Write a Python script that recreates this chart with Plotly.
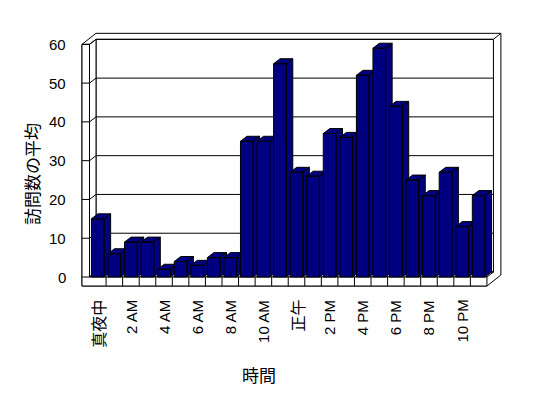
import plotly.graph_objects as go

# ---- data ----
hours = ["真夜中", "1 AM", "2 AM", "3 AM", "4 AM", "5 AM", "6 AM", "7 AM", "8 AM", "9 AM",
         "10 AM", "11 AM", "正午", "1 PM", "2 PM", "3 PM", "4 PM", "5 PM", "6 PM", "7 PM",
         "8 PM", "9 PM", "10 PM", "11 PM"]
visits = [15, 6, 9, 9, 2, 4, 3, 5, 5, 35, 35, 55, 27, 26, 37, 36, 52, 59, 44, 25, 21, 27, 13, 21]
x_tick_labels = ["真夜中", "2 AM", "4 AM", "6 AM", "8 AM", "10 AM", "正午",
                 "2 PM", "4 PM", "6 PM", "8 PM", "10 PM"]
y_ticks = [0, 10, 20, 30, 40, 50, 60]
y_title = "訪問数の平均"
x_title = "時間"

# ---- geometry / style (in axis units) ----
N = len(hours)
X0, X1 = -0.5, N - 0.5
YMAX = max(y_ticks)
DX, DY = 0.3925, 1.289        # depth offset of the 3D box
BWX, BWY = 0.45, 1.55         # back wall thickness
WALL = 0.453                  # left wall thickness
FLOOR = 2.32                  # floor thickness
BAR_W = 0.766
BAR_COLOR = "#000080"
LINE = dict(color="black", width=1)
FONT = "Liberation Sans, Noto Sans CJK JP, sans-serif"
CJK_FONT = "Noto Sans CJK JP"

fig = go.Figure()


def poly_trace(polys, fill):
    xs, ys = [], []
    for px, py in polys:
        if xs:
            xs.append(None)
            ys.append(None)
        xs += list(px) + [px[0]]
        ys += list(py) + [py[0]]
    fig.add_trace(go.Scatter(x=xs, y=ys, mode="lines", fill="toself", fillcolor=fill,
                             line=LINE, hoverinfo="skip", showlegend=False))


def line_trace(segs):
    xs, ys = [], []
    for px, py in segs:
        xs += list(px) + [None]
        ys += list(py) + [None]
    fig.add_trace(go.Scatter(x=xs, y=ys, mode="lines", line=LINE,
                             hoverinfo="skip", showlegend=False))


# outer silhouette of walls + floor
poly_trace([([X0 - WALL, X1, X1 + DX + BWX, X1 + DX + BWX, X0 - WALL + DX + BWX, X0 - WALL],
             [-FLOOR, -FLOOR, -FLOOR + DY + BWY, YMAX + DY + BWY, YMAX + DY + BWY, YMAX])], "white")
# back wall face
poly_trace([([X0 + DX, X1 + DX, X1 + DX, X0 + DX], [DY, DY, YMAX + DY, YMAX + DY])], "white")
# left wall inner face
poly_trace([([X0, X0, X0 + DX, X0 + DX], [0, YMAX, YMAX + DY, DY])], "white")
# floor top
poly_trace([([X0, X1, X1 + DX, X0 + DX], [0, 0, DY, DY])], "white")
# front faces of left wall and floor (L shape)
poly_trace([([X0 - WALL, X1, X1, X0, X0, X0 - WALL],
             [-FLOOR, -FLOOR, 0, 0, YMAX, YMAX])], "white")
# category dividers on floor front, corner line on back wall top
segs = [([X0 + k, X0 + k], [-FLOOR, 0]) for k in range(1, N)]
segs.append(([X1 + DX, X1 + DX + BWX], [YMAX + DY, YMAX + DY + BWY]))
# gridlines wrapping left wall and back wall
for v in y_ticks:
    segs.append(([X0 - WALL, X0, X0 + DX, X1 + DX], [v, v, v + DY, v + DY]))
line_trace(segs)

# bars (side, top, front), drawn left to right
for i, v in enumerate(visits):
    l, r = i - BAR_W / 2, i + BAR_W / 2
    poly_trace([
        ([r, r, r + DX, r + DX], [0, v, v + DY, DY]),
        ([l, r, r + DX, l + DX], [v, v, v + DY, v + DY]),
        ([l, r, r, l], [0, 0, v, v]),
    ], BAR_COLOR)

annotations = []
for v in y_ticks:
    annotations.append(dict(x=X0 - WALL, y=v, xref="x", yref="y", text=str(v),
                            showarrow=False, xanchor="right", yanchor="middle", xshift=-14,
                            font=dict(family=FONT, size=15, color="#000000")))
for j, lab in enumerate(x_tick_labels):
    idx = hours.index(lab)
    cjk = not any(c.isascii() and c.isalpha() for c in lab)
    annotations.append(dict(x=idx, y=-FLOOR, xref="x", yref="y", text=lab, textangle=-90,
                            showarrow=False, xanchor="center", yanchor="top", yshift=-12,
                            font=dict(family=CJK_FONT if cjk else FONT, size=16 if cjk else 15,
                                      color="#000000")))
annotations.append(dict(x=0.0584, y=0.563, xref="paper", yref="paper", text=y_title,
                        textangle=-90, showarrow=False, xanchor="center", yanchor="middle",
                        font=dict(family=CJK_FONT, size=17, color="#000000")))
annotations.append(dict(x=0.4726, y=0.0578, xref="paper", yref="paper", text=x_title,
                        showarrow=False, xanchor="center", yanchor="middle",
                        font=dict(family=CJK_FONT, size=17, color="#000000")))

fig.update_layout(
    width=548, height=398, autosize=False,
    margin=dict(l=0, r=0, t=0, b=0, pad=0),
    paper_bgcolor="white", plot_bgcolor="white",
    showlegend=False,
    xaxis=dict(range=[-5.905, 27.187], visible=False, fixedrange=True),
    yaxis=dict(range=[-31.2, 71.43], visible=False, fixedrange=True),
    annotations=annotations,
)

fig.write_html("out.html")
